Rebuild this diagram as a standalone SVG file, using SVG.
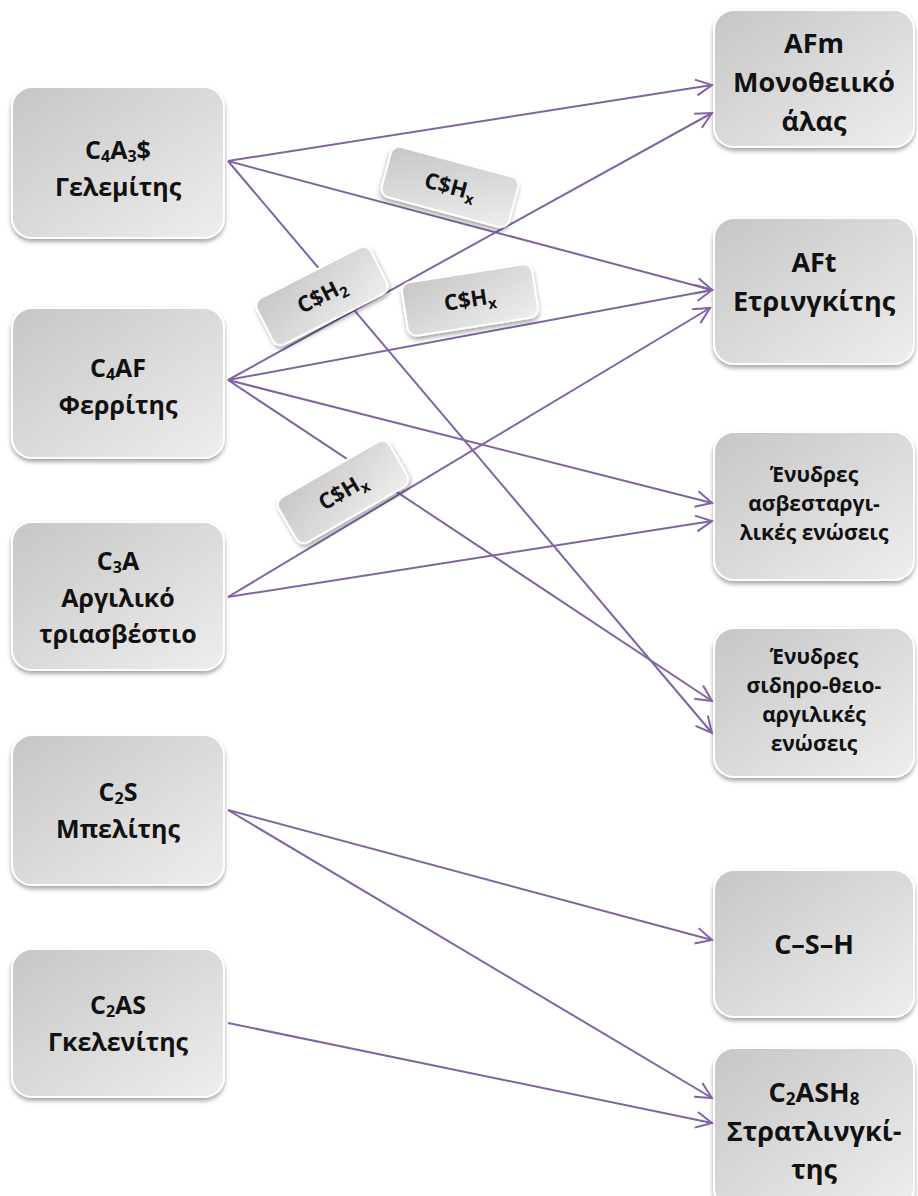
<svg xmlns="http://www.w3.org/2000/svg" width="918" height="1196" viewBox="0 0 918 1196">
<defs>
<linearGradient id="g" x1="0" y1="0" x2="1" y2="1">
<stop offset="0" stop-color="#c6c6c6"/>
<stop offset="1" stop-color="#eeeeee"/>
</linearGradient>
<filter id="sh" x="-10%" y="-10%" width="120%" height="125%">
<feDropShadow dx="0" dy="3" stdDeviation="2" flood-color="#000" flood-opacity="0.35"/>
</filter>
<marker id="ah" viewBox="0 0 20 20" refX="18" refY="10" markerWidth="20" markerHeight="20" markerUnits="userSpaceOnUse" orient="auto">
<path d="M2,2 L18,10 L2,18" fill="none" stroke="#8064A2" stroke-width="2"/>
</marker>
</defs>
<style>
.box{fill:url(#g);stroke:#fff;stroke-width:2;filter:url(#sh)}
.t{font-family:"Open Sans","Noto Sans","DejaVu Sans",sans-serif;font-weight:bold;fill:#111;text-anchor:middle}
.b{font-size:25px}
.r{font-size:27px}
.s{font-size:21px}
.l{font-size:22px}
.c{fill:none;stroke:#8064A2;stroke-width:2;marker-end:url(#ah)}
</style>
<rect width="918" height="1196" fill="#fff"/>

<g id="left-nodes">
<g id="n-c4a3s">
<rect class="box" x="12" y="87" width="212" height="151" rx="20"/>
<text class="t b" x="118" y="159">C<tspan font-size="16" dy="3">4</tspan><tspan dy="-3">A</tspan><tspan font-size="16" dy="3">3</tspan><tspan dy="-3">$</tspan></text>
<text class="t b" x="118" y="196">Γελεμίτης</text>
</g>
<g id="n-c4af">
<rect class="box" x="12" y="308" width="212" height="150" rx="20"/>
<text class="t b" x="118" y="377">C<tspan font-size="16" dy="3">4</tspan><tspan dy="-3">AF</tspan></text>
<text class="t b" x="118" y="414">Φερρίτης</text>
</g>
<g id="n-c3a">
<rect class="box" x="12" y="522" width="212" height="148" rx="20"/>
<text class="t b" x="118" y="570">C<tspan font-size="16" dy="3">3</tspan><tspan dy="-3">A</tspan></text>
<text class="t b" x="118" y="607">Αργιλικό</text>
<text class="t b" x="118" y="643">τριασβέστιο</text>
</g>
<g id="n-c2s">
<rect class="box" x="12" y="735" width="212" height="150" rx="20"/>
<text class="t b" x="118" y="801">C<tspan font-size="16" dy="3">2</tspan><tspan dy="-3">S</tspan></text>
<text class="t b" x="118" y="838">Μπελίτης</text>
</g>
<g id="n-c2as">
<rect class="box" x="12" y="949" width="212" height="148" rx="20"/>
<text class="t b" x="118" y="1014">C<tspan font-size="16" dy="3">2</tspan><tspan dy="-3">AS</tspan></text>
<text class="t b" x="118" y="1051">Γκελενίτης</text>
</g>
</g>

<g id="right-nodes">
<g id="n-afm">
<rect class="box" x="714" y="10" width="200" height="137" rx="20"/>
<text class="t r" x="814" y="53">AFm</text>
<text class="t r" x="814" y="92">Μονοθειικό</text>
<text class="t r" x="814" y="131">άλας</text>
</g>
<g id="n-aft">
<rect class="box" x="714" y="218" width="200" height="146" rx="20"/>
<text class="t r" x="814" y="272">AFt</text>
<text class="t r" x="814" y="311">Ετρινγκίτης</text>
</g>
<g id="n-hyd1">
<rect class="box" x="714" y="432" width="200" height="148" rx="20"/>
<text class="t s" x="814" y="482">Ένυδρες</text>
<text class="t s" x="814" y="511">ασβεσταργι-</text>
<text class="t s" x="814" y="540">λικές ενώσεις</text>
</g>
<g id="n-hyd2">
<rect class="box" x="714" y="628" width="200" height="149" rx="20"/>
<text class="t s" x="814" y="664">Ένυδρες</text>
<text class="t s" x="814" y="693">σιδηρο-θειο-</text>
<text class="t s" x="814" y="722">αργιλικές</text>
<text class="t s" x="814" y="751">ενώσεις</text>
</g>
<g id="n-csh">
<rect class="box" x="714" y="870" width="200" height="147" rx="20"/>
<text class="t r" x="814" y="954">C–S–H</text>
</g>
<g id="n-c2ash8">
<rect class="box" x="714" y="1048" width="200" height="160" rx="20"/>
<text class="t r" x="814" y="1102">C<tspan font-size="17" dy="3">2</tspan><tspan dy="-3">ASH</tspan><tspan font-size="17" dy="3">8</tspan></text>
<text class="t r" x="814" y="1141">Στρατλινγκί-</text>
<text class="t r" x="814" y="1179">της</text>
</g>
</g>

<g id="connectors">
<line class="c" x1="228" y1="161" x2="712" y2="85"/>
<line class="c" x1="228" y1="161" x2="712" y2="290"/>
<line class="c" x1="228" y1="161" x2="712" y2="733"/>
<line class="c" x1="228" y1="380" x2="712" y2="113"/>
<line class="c" x1="228" y1="380" x2="712" y2="290"/>
<line class="c" x1="228" y1="380" x2="712" y2="503"/>
<line class="c" x1="228" y1="380" x2="712" y2="701"/>
<line class="c" x1="228" y1="597" x2="710" y2="308"/>
<line class="c" x1="228" y1="597" x2="712" y2="521"/>
<line class="c" x1="228" y1="810" x2="712" y2="940"/>
<line class="c" x1="228" y1="810" x2="712" y2="1098"/>
<line class="c" x1="228" y1="1023" x2="712" y2="1123"/>
</g>

<g id="labels">
<g id="lbl1" transform="translate(450,187) rotate(15)">
<rect class="box" x="-66" y="-26" width="132" height="52" rx="9"/>
<text class="t l" x="0" y="7">C$H<tspan font-size="15" dy="5">x</tspan></text>
</g>
<g id="lbl2" transform="translate(322,296) rotate(-27)">
<rect class="box" x="-64" y="-26" width="128" height="52" rx="9"/>
<text class="t l" x="0" y="7">C$H<tspan font-size="15" dy="5">2</tspan></text>
</g>
<g id="lbl3" transform="translate(470,300) rotate(-9)">
<rect class="box" x="-66" y="-27" width="132" height="54" rx="9"/>
<text class="t l" x="0" y="7">C$H<tspan font-size="15" dy="5">x</tspan></text>
</g>
<g id="lbl4" transform="translate(343,492) rotate(-30)">
<rect class="box" x="-64" y="-26" width="128" height="52" rx="9"/>
<text class="t l" x="0" y="7">C$H<tspan font-size="15" dy="5">x</tspan></text>
</g>
</g>
</svg>
